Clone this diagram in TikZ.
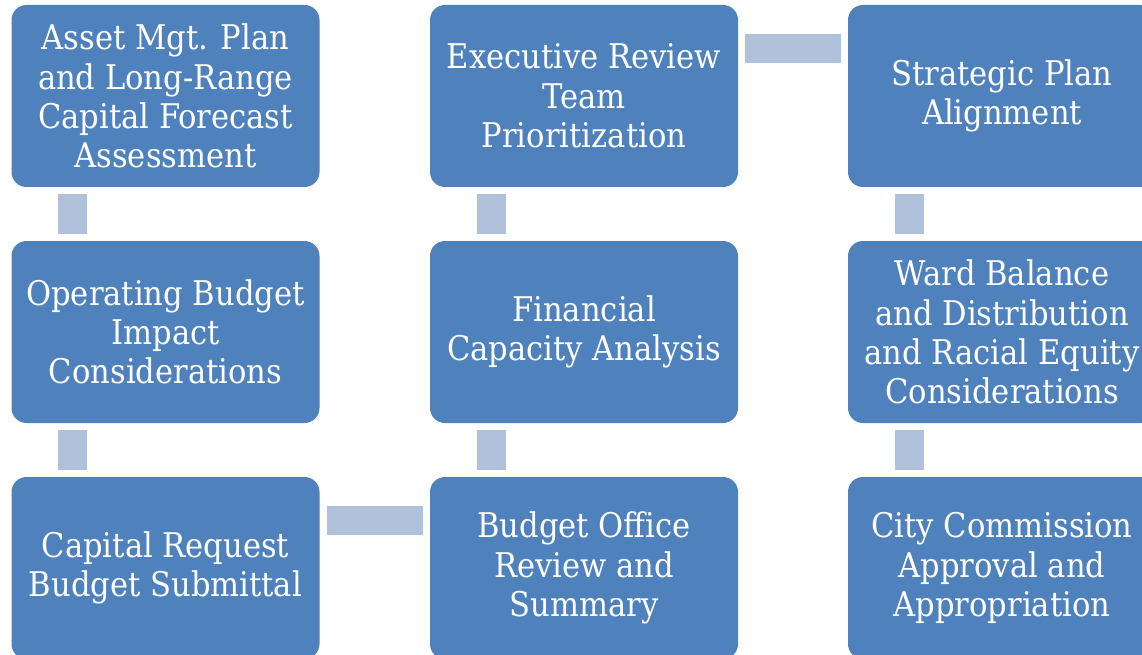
\documentclass[tikz,border=0pt]{standalone}
\usepackage{fontspec}
\setmainfont{DejaVu Serif Condensed}
\usetikzlibrary{positioning}
\definecolor{StepBlue}{HTML}{4F81BD}
\definecolor{LinkBlue}{HTML}{B0C1DC}
\tikzset{
  stepbox/.style={fill=StepBlue,rounded corners=15pt,minimum width=308pt,minimum height=182pt,
    align=center,text=white,inner sep=0pt,font=\fontsize{34}{39.3}\selectfont},
  link/.style={draw=LinkBlue,line width=29pt,shorten >=7pt,shorten <=7pt}
}

\begin{document}
\begin{tikzpicture}[x=1pt,y=-1pt]
  \useasboundingbox (0,0) rectangle (1142,655);
  \clip (0,0) rectangle (1142,655);
  % first column
  \node[stepbox] (asset) at (165.5,96) {Asset Mgt. Plan\\and Long-Range\\Capital Forecast\\Assessment};
  \node[stepbox] (opbudget) at (165.5,332) {Operating Budget\\Impact\\Considerations};
  \node[stepbox] (request) at (165.5,568) {Capital Request\\Budget Submittal};
  % second column
  \node[stepbox] (exec) at (584,96) {Executive Review\\Team\\Prioritization};
  \node[stepbox] (capacity) at (584,332) {Financial\\Capacity Analysis};
  \node[stepbox] (office) at (584,568) {Budget Office\\Review and\\Summary};
  % third column
  \node[stepbox] (strategic) at (1002,96) {Strategic Plan\\Alignment};
  \node[stepbox] (ward) at (1002,332) {Ward Balance\\and Distribution\\and Racial Equity\\Considerations};
  \node[stepbox] (commission) at (1002,568) {City Commission\\Approval and\\Appropriation};

  % connectors
  \draw[link] ([xshift=61.5pt]asset.south west) -- ([xshift=61.5pt]opbudget.north west);
  \draw[link] ([xshift=61.5pt]opbudget.south west) -- ([xshift=61.5pt]request.north west);
  \draw[link] ([yshift=-43.5pt]request.north east) -- ([yshift=-43.5pt]office.north west);
  \draw[link] ([xshift=61.5pt]office.north west) -- ([xshift=61.5pt]capacity.south west);
  \draw[link] ([xshift=61.5pt]capacity.north west) -- ([xshift=61.5pt]exec.south west);
  \draw[link] ([yshift=-44pt]exec.north east) -- ([yshift=-44pt]strategic.north west);
  \draw[link] ([xshift=61.5pt]strategic.south west) -- ([xshift=61.5pt]ward.north west);
  \draw[link] ([xshift=61.5pt]ward.south west) -- ([xshift=61.5pt]commission.north west);
\end{tikzpicture}
\end{document}
